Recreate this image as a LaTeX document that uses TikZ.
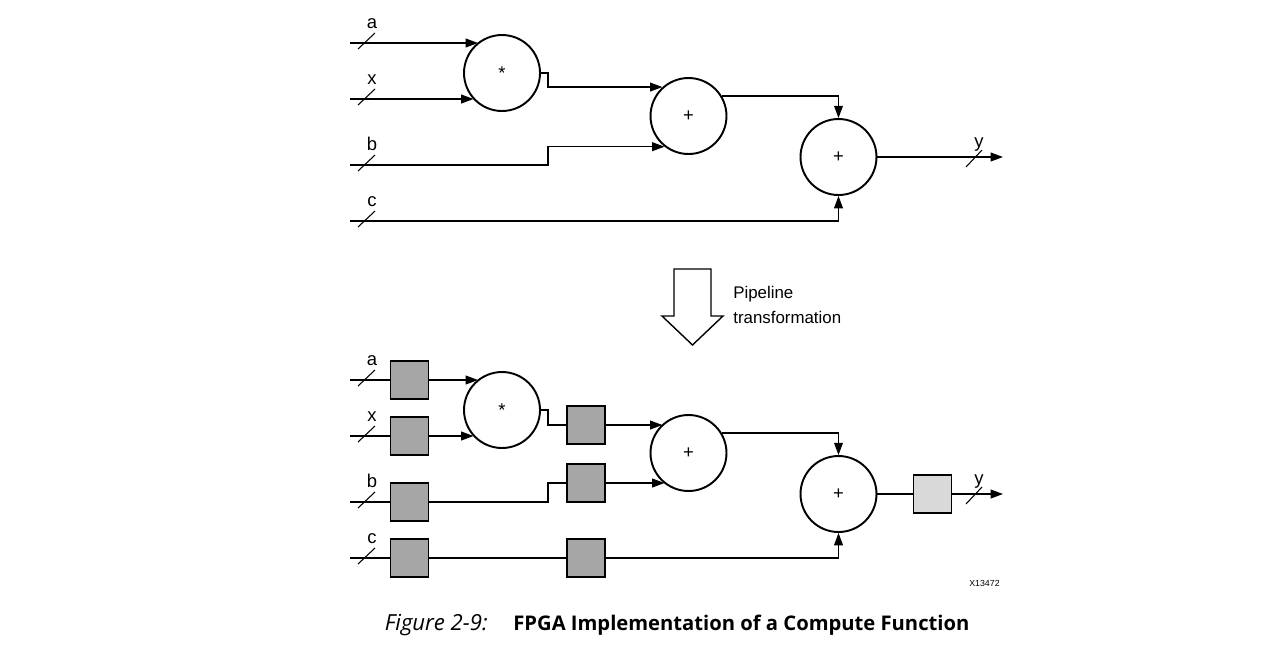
\documentclass[tikz,border=0pt]{standalone}
\usepackage{fontspec}
\setmainfont{Liberation Sans}
\newfontfamily\captionFont{Open Sans}
\usetikzlibrary{arrows.meta, calc}
\definecolor{regGray}{HTML}{A6A6A6}
\definecolor{outRegGray}{HTML}{D9D9D9}
\tikzset{
    OpBubble/.style={draw, circle, line width=1.1pt, minimum size=1.52cm, inner sep=0pt, font=\fontsize{10.5}{11}\selectfont},
    RegBox/.style={draw, line width=1.1pt, fill=regGray, minimum size=0.76cm, inner sep=0pt},
    OutRegBox/.style={RegBox, fill=outRegGray},
    Wire/.style={line width=0.7pt},
    WireArrow/.style={Wire, -{Triangle[length=7pt, width=5pt]}},
    BusSlash/.style={line width=0.6pt},
    PortText/.style={font=\fontsize{10.5}{11}\selectfont, anchor=base, inner sep=0pt},
    NoteText/.style={font=\fontsize{9.6}{14}\selectfont, align=left, anchor=north west, inner sep=0pt},
    TagText/.style={font=\fontsize{5}{6}\selectfont, anchor=base east, inner sep=0pt},
    CaptionText/.style={font=\captionFont\fontsize{11.5}{13}\selectfont, inner sep=0pt}
}

\begin{document}
\begin{tikzpicture}[x=0.02cm, y=-0.02cm]
    \useasboundingbox (0,0) rectangle (1275,647);

    % 输入端口:两张图共用
    \foreach \dy/\tag in {0/T, 337/B} {
        \foreach \lab/\w in {a/43, x/99, b/165, c/221} {
            \coordinate (in\lab\tag) at (350,\w+\dy);
            \node[PortText] (lab\lab\tag) at (372,\w+\dy-15) {\lab};
            \draw[BusSlash] (358,\w+\dy+6) -- (375,\w+\dy-10);
        }
        \coordinate (step\tag) at (548,\dy);
    }

    % 上图:组合逻辑
    \node[OpBubble] (mulT) at (502,73) {*};
    \node[OpBubble] (addAT) at (688.5,116) {+};
    \node[OpBubble] (addBT) at (838.5,157) {+};
    \draw[WireArrow] (inaT) -- (inaT -| mulT.128);
    \draw[WireArrow] (inxT) -- (inxT -| mulT.223);
    \draw[WireArrow] (mulT.east) -- (mulT.east -| stepT) |- (addAT.132);
    \draw[WireArrow] (inbT) -- (inbT -| stepT) |- (addAT.232);
    \draw[WireArrow] (addAT.31) -| (addBT.north);
    \draw[WireArrow] (incT) -| (addBT.south);
    \coordinate (outT) at (1003,157);
    \draw[WireArrow] (addBT.east) -- (outT);
    \draw[BusSlash] (966,167) -- (982,150);
    \node[PortText] (labyT) at (979,147) {y};

    % 流水线变换箭头
    \draw[line width=0.8pt] (674,269) -- (711,269) -- (711,316) -- (723,316) -- (692.5,345)
        -- (662,316) -- (674,316) -- cycle;
    \node[NoteText] (pipeNote) at (733,286) {Pipeline\\transformation};

    % 下图:插入寄存器
    \foreach \lab/\w in {a/380, x/436, b/502, c/558}
        \node[RegBox] (reg\lab) at (409.5,\w) {};
    \node[OpBubble] (mulB) at (502,410) {*};
    \node[OpBubble] (addAB) at (688.5,453) {+};
    \node[OpBubble] (addBB) at (838.5,494) {+};
    \node[RegBox] (regm) at (586,425) {};
    \node[RegBox] (regb2) at (586,483) {};
    \node[RegBox] (regc2) at (586,558) {};
    \node[OutRegBox] (regy) at (932.5,494) {};

    \foreach \lab in {a,x,b,c}
        \draw[Wire] (in\lab B) -- (reg\lab.west);
    \draw[WireArrow] (rega.east) -- (rega.east -| mulB.128);
    \draw[WireArrow] (regx.east) -- (regx.east -| mulB.223);
    \draw[Wire] (mulB.east) -- (mulB.east -| stepB) |- (regm.west);
    \draw[WireArrow] (regm.east) -- (regm.east -| addAB.132);
    \draw[Wire] (regb.east) -- (regb.east -| stepB) |- (regb2.west);
    \draw[WireArrow] (regb2.east) -- (regb2.east -| addAB.232);
    \draw[Wire] (regc.east) -- (regc2.west);
    \draw[WireArrow] (regc2.east) -| (addBB.south);
    \draw[WireArrow] (addAB.31) -| (addBB.north);
    \draw[Wire] (addBB.east) -- (regy.west);
    \coordinate (outB) at (1003,494);
    \draw[WireArrow] (regy.east) -- (outB);
    \draw[BusSlash] (966,504) -- (982,487);
    \node[PortText] (labyB) at (979,484) {y};

    \node[TagText] (figTag) at (1000,586) {X13472};

    % 图注
    \node[CaptionText, anchor=base east, font=\captionFont\fontsize{12.6}{13}\selectfont] (figNum) at (488,630) {\itshape Figure 2-9:};
    \node[CaptionText, anchor=base west] (figTitle) at (513,630) {\bfseries FPGA Implementation of a Compute Function};
\end{tikzpicture}
\end{document}
